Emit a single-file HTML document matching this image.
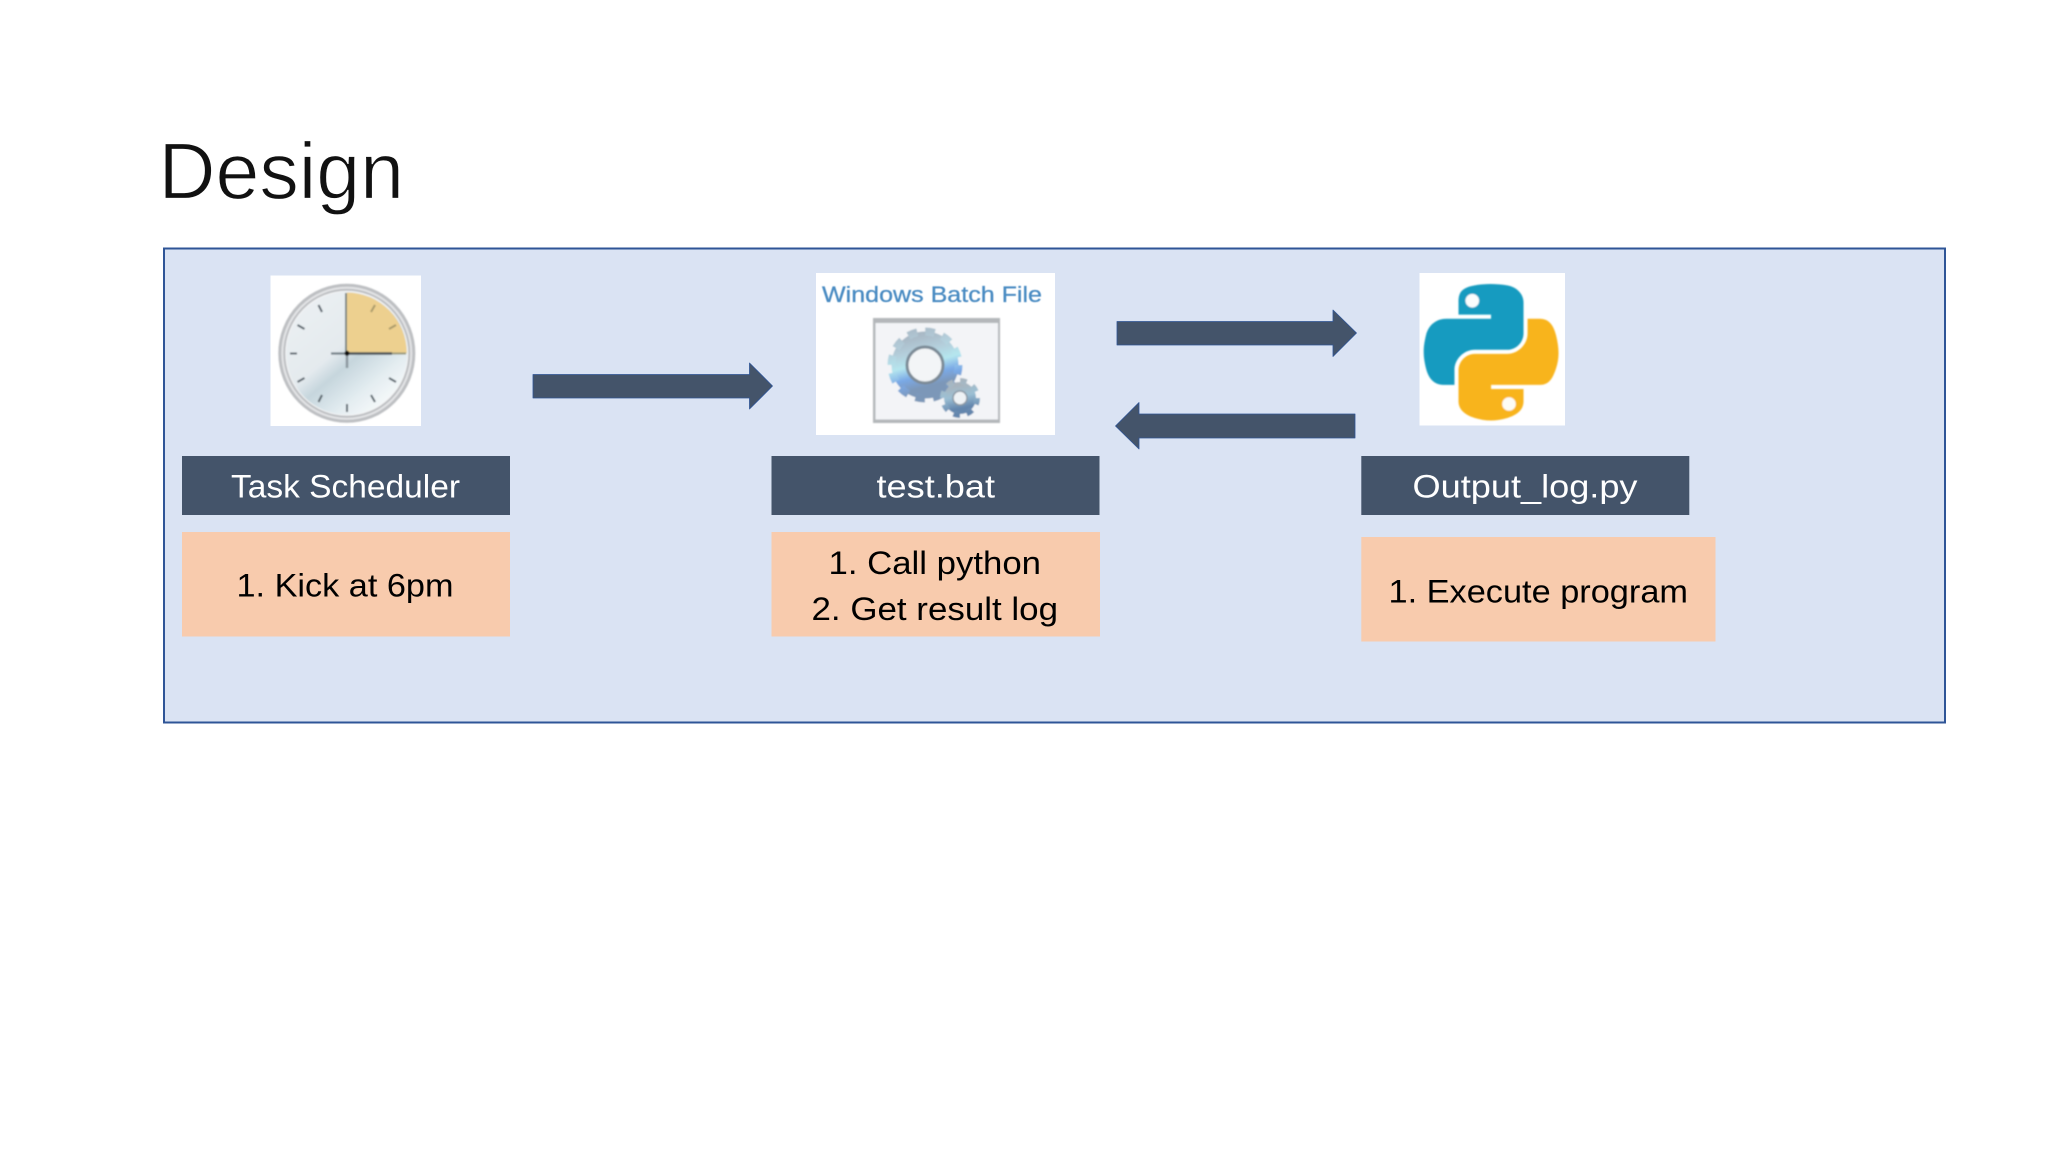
<!DOCTYPE html>
<html lang="en">
<head>
<meta charset="utf-8">
<title>Design</title>
<style>
html,body{margin:0;padding:0;background:#fff;width:2048px;height:1152px;overflow:hidden}
svg{display:block}
text{font-family:"Liberation Sans",sans-serif}
</style>
</head>
<body>
<svg width="2048" height="1152" viewBox="0 0 2048 1152" xmlns="http://www.w3.org/2000/svg">
<defs>
<linearGradient id="face" x1="0.15" y1="0.1" x2="0.85" y2="0.95">
<stop offset="0" stop-color="#eaeff2"/><stop offset="0.42" stop-color="#e4eaee"/><stop offset="0.55" stop-color="#c6d6dd"/><stop offset="0.78" stop-color="#e4edf1"/><stop offset="1" stop-color="#fafcfc"/>
</linearGradient>
<linearGradient id="gear" x1="0" y1="0" x2="0.25" y2="1">
<stop offset="0" stop-color="#a9b9c6"/><stop offset="0.3" stop-color="#b4cfdc"/><stop offset="0.55" stop-color="#b5e6ee"/><stop offset="0.78" stop-color="#7aa9e6"/><stop offset="1" stop-color="#7b97b8"/>
</linearGradient>
<linearGradient id="gear2" x1="0" y1="0" x2="0.2" y2="1">
<stop offset="0" stop-color="#a9b3bc"/><stop offset="0.5" stop-color="#9cc0d4"/><stop offset="1" stop-color="#6486ad"/>
</linearGradient>
<filter id="soft" x="-5%" y="-5%" width="110%" height="110%"><feGaussianBlur stdDeviation="0.8"/></filter>
<filter id="soft2" x="-5%" y="-20%" width="110%" height="140%"><feGaussianBlur stdDeviation="0.4"/></filter>
</defs>
<rect width="2048" height="1152" fill="#fff"/>

<text x="158.500" y="198.300" font-size="80" fill="#111" stroke="#fff" stroke-width="1.2" textLength="245.500" lengthAdjust="spacingAndGlyphs">Design</text>

<rect x="164" y="248.500" width="1781" height="474" fill="#dae3f3" stroke="#2f5597" stroke-width="2"/>

<!-- clock -->
<rect x="270.500" y="275.500" width="150.500" height="150.500" fill="#fff"/>
<g filter="url(#soft)">
<ellipse cx="346.800" cy="353.300" rx="67" ry="68" fill="#e4e5e7" stroke="#bdbfc2" stroke-width="3"/>
<ellipse cx="346.800" cy="353.300" rx="62.500" ry="63.500" fill="#f4f5f6" stroke="#bcbec1" stroke-width="2"/>
<ellipse cx="346.800" cy="353.300" rx="60.500" ry="61.500" fill="url(#face)"/>
<path d="M347 292.500 A60 60.800 0 0 1 406.800 353.300 L347 353.300 Z" fill="#edd08f"/>
<g stroke="#56626a" stroke-width="2" fill="none">
<line x1="318.500" y1="305" x2="322" y2="312"/><line x1="297.500" y1="325" x2="304.500" y2="329"/>
<line x1="290" y1="353.500" x2="297" y2="353.500"/><line x1="297.500" y1="382" x2="304.500" y2="378"/>
<line x1="318.500" y1="402" x2="322" y2="395"/><line x1="347" y1="412" x2="347" y2="404"/>
<line x1="375" y1="402" x2="371" y2="395"/><line x1="396" y1="382" x2="389" y2="378"/>
<line x1="396" y1="325" x2="389" y2="329" stroke="#a99a6a"/><line x1="375" y1="305" x2="371" y2="312" stroke="#a99a6a"/>
</g>
<line x1="346" y1="293" x2="346" y2="353" stroke="#5f6a66" stroke-width="1.600"/>
<line x1="347" y1="353" x2="347" y2="368" stroke="#8b979e" stroke-width="2.500"/>
<line x1="331" y1="353.500" x2="347" y2="353.500" stroke="#717d85" stroke-width="2.200"/>
<line x1="347" y1="353.500" x2="392" y2="353.500" stroke="#4a5156" stroke-width="2.400"/>
<line x1="392" y1="353.500" x2="406" y2="353.500" stroke="#9a9a7c" stroke-width="2"/>
<circle cx="347" cy="353.300" r="2.500" fill="#111"/>
</g>

<!-- batch image -->
<rect x="816" y="273" width="239" height="162" fill="#fff"/>
<text x="822" y="302" font-size="22" fill="#4a8bc2" stroke="#4a8bc2" stroke-width="0.300" textLength="220" lengthAdjust="spacingAndGlyphs" filter="url(#soft2)">Windows Batch File</text>
<g filter="url(#soft)">
<rect x="873" y="318" width="127" height="105" fill="#b4b7ba"/>
<rect x="875.500" y="323" width="122.500" height="96.500" fill="#f3f4f7"/>
<circle cx="925" cy="365" r="25" fill="none" stroke="url(#gear)" stroke-width="17"/>
<circle cx="925" cy="365" r="33.500" fill="none" stroke="url(#gear)" stroke-width="8" stroke-dasharray="9.500 8.040"/>
<circle cx="925" cy="365" r="18" fill="#f3f5f7" stroke="#7b8a96" stroke-width="3"/>
<circle cx="960" cy="398" r="11.500" fill="none" stroke="url(#gear2)" stroke-width="9"/>
<circle cx="960" cy="398" r="17" fill="none" stroke="url(#gear2)" stroke-width="6" stroke-dasharray="6.500 6.850"/>
<circle cx="960" cy="398" r="7" fill="#eef2f5" stroke="#8b98a4" stroke-width="1.500"/>
</g>

<!-- python image -->
<rect x="1419.500" y="273" width="145.500" height="152.500" fill="#fff"/>
<g filter="url(#soft)">
<g transform="translate(1423.700 284) scale(1.213 1.214)">
<path fill="#139bc0" d="M54.919,0.001 C50.335,0.022 45.958,0.413 42.106,1.095 C30.760,3.099 28.700,7.295 28.700,15.032 V25.250 H55.513 V28.656 H28.700 H18.637 C10.845,28.656 4.022,33.339 1.888,42.250 C-0.574,52.463 -0.683,58.836 1.888,69.500 C3.794,77.438 8.345,83.094 16.137,83.094 H25.356 V70.844 C25.356,61.994 33.013,54.188 42.106,54.188 H68.888 C76.343,54.188 82.294,48.050 82.294,40.563 V15.032 C82.294,7.766 76.164,2.308 68.888,1.095 C64.282,0.328 59.503,-0.020 54.919,0.001 Z"/>
<path fill="#f8b41f" d="M85.638,28.656 V40.563 C85.638,49.794 77.812,57.563 68.888,57.563 H42.106 C34.770,57.563 28.700,63.841 28.700,71.188 V96.719 C28.700,103.985 35.019,108.259 42.106,110.344 C50.593,112.839 58.732,113.290 68.888,110.344 C75.638,108.389 82.294,104.455 82.294,96.719 V86.500 H55.513 V83.094 H82.294 H95.700 C103.492,83.094 106.396,77.659 109.106,69.500 C111.905,61.100 111.786,53.022 109.106,42.250 C107.181,34.494 103.503,28.656 95.700,28.656 Z"/>
</g>
<circle cx="1472.300" cy="300.700" r="6.800" fill="#fbfdfd"/>
<circle cx="1509" cy="404" r="6.800" fill="#fdfcf6"/>
</g>

<!-- arrows -->
<g fill="#44546a" stroke="#2f5597" stroke-width="0.800" stroke-linejoin="round">
<polygon points="533,374.500 749.500,374.500 749.500,363 772.500,386 749.500,409 749.500,398 533,398"/>
<polygon points="1117,321.500 1333,321.500 1333,310 1356.500,333 1333,356.500 1333,345 1117,345"/>
<polygon points="1355,414 1139,414 1139,402.500 1115.500,426 1139,449 1139,438 1355,438"/>
</g>

<!-- headers -->
<g fill="#44546a">
<rect x="182" y="456" width="328" height="59"/>
<rect x="771.500" y="456" width="328" height="59"/>
<rect x="1361.300" y="456" width="328" height="59"/>
</g>
<g font-size="32" fill="#fff">
<text x="231" y="497.500" textLength="229" lengthAdjust="spacingAndGlyphs">Task Scheduler</text>
<text x="876.500" y="497.500" textLength="118.500" lengthAdjust="spacingAndGlyphs">test.bat</text>
<text x="1412.500" y="497.500" textLength="225" lengthAdjust="spacingAndGlyphs">Output_log.py</text>
</g>

<!-- description boxes -->
<g fill="#f8cbad">
<rect x="182" y="532" width="328" height="104.500"/>
<rect x="771.500" y="532" width="328.500" height="104.500"/>
<rect x="1361.300" y="537" width="354.200" height="104.500"/>
</g>
<g font-size="32" fill="#000">
<text x="236.500" y="596.500" textLength="217" lengthAdjust="spacingAndGlyphs">1. Kick at 6pm</text>
<text x="828.500" y="573.800" textLength="212.500" lengthAdjust="spacingAndGlyphs">1. Call python</text>
<text x="811.500" y="620" textLength="246.500" lengthAdjust="spacingAndGlyphs">2. Get result log</text>
<text x="1388.500" y="602.500" textLength="299.500" lengthAdjust="spacingAndGlyphs">1. Execute program</text>
</g>
</svg>
</body>
</html>
